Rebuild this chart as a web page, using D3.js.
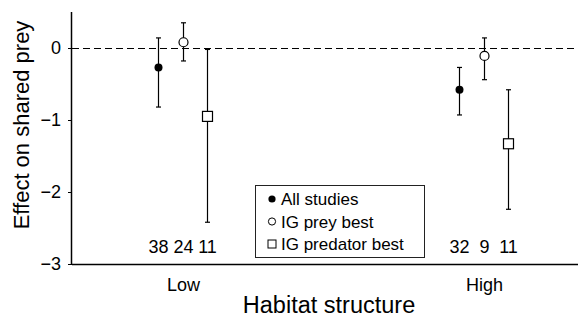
<!DOCTYPE html>
<html>
<head>
<meta charset="utf-8">
<script src="https://cdn.jsdelivr.net/npm/d3@7/dist/d3.min.js"></script>
<style>
  html, body { margin: 0; padding: 0; background: #fff; }
  svg { display: block; }
  text { font-family: "Liberation Sans", Arial, Helvetica, sans-serif; fill: #000; }
</style>
</head>
<body>
<svg id="chart" width="578" height="318"></svg>
<script>
// ---- data ----
const categories = ["Low", "High"];
const seriesNames = ["All studies", "IG prey best", "IG predator best"];
const meanAll   = [-0.27, -0.58];
const meanPrey  = [0.08, -0.11];
const meanPred  = [-0.95, -1.33];
const lowAll    = [-0.82, -0.93];
const lowPrey   = [-0.18, -0.44];
const lowPred   = [-2.42, -2.24];
const highAll   = [0.14, -0.27];
const highPrey  = [0.35, 0.14];
const highPred  = [-0.02, -0.58];
const nAll      = [38, 32];
const nPrey     = [24, 9];
const nPred     = [11, 11];
const yTicks    = [0, -1, -2, -3];

const series = [
  { name: seriesNames[0], mean: meanAll,  lo: lowAll,  hi: highAll,  n: nAll,  shape: "fcircle" },
  { name: seriesNames[1], mean: meanPrey, lo: lowPrey, hi: highPrey, n: nPrey, shape: "ocircle" },
  { name: seriesNames[2], mean: meanPred, lo: lowPred, hi: highPred, n: nPred, shape: "square" }
];

// ---- layout ----
const svg = d3.select("#chart");
const mL = 72, mR = 578, mT = 12, mB = 264;

const y = d3.scaleLinear().domain([-3, 0.5]).range([mB, mT]);
const xCat = d3.scaleLinear().domain([-0.369, 1.312]).range([mL, mR]);
const xOff = d3.scalePoint().domain(seriesNames).range([-25, 24]);
const xPos = (ci, s) => xCat(ci) + xOff(s);

// y axis
const yAxis = d3.axisLeft(y).tickValues(yTicks).tickFormat(d3.format("d")).tickSize(4).tickPadding(7);
const gy = svg.append("g").attr("transform", `translate(${mL},0)`).call(yAxis);
gy.select(".domain").attr("d", `M-0.5,${mT}V${mB}`).attr("stroke", "#000").attr("stroke-width", 1.5);
gy.selectAll(".tick line").attr("stroke", "#000").attr("stroke-width", 1);
gy.selectAll(".tick text").style("font-size", "18px").style("font-family", "'Liberation Sans', Arial, sans-serif");

// x axis
const xAxis = d3.axisBottom(xCat).tickValues([0, 1]).tickFormat(i => categories[i]).tickSize(0).tickPadding(14);
const gx = svg.append("g").attr("transform", `translate(0,${mB})`).call(xAxis);
gx.select(".domain").attr("d", `M${mL},0.5H${mR}`).attr("stroke", "#000").attr("stroke-width", 1.5);
gx.selectAll(".tick text").style("font-size", "18px").style("font-family", "'Liberation Sans', Arial, sans-serif");

// zero reference line
svg.append("line")
  .attr("x1", mL).attr("x2", mR)
  .attr("y1", y(0) + 0.5).attr("y2", y(0) + 0.5)
  .attr("stroke", "#000").attr("stroke-width", 1.1)
  .attr("stroke-dasharray", "7,4");

// error bars & markers
const cap = 2.5;
series.forEach(s => {
  categories.forEach((c, ci) => {
    const cx = Math.round(xPos(ci, s.name)) + 0.5;
    const g = svg.append("g");
    g.append("line").attr("x1", cx).attr("x2", cx)
      .attr("y1", y(s.hi[ci])).attr("y2", y(s.lo[ci]))
      .attr("stroke", "#000").attr("stroke-width", 1.2);
    [s.hi[ci], s.lo[ci]].forEach(v => {
      g.append("line").attr("x1", cx - cap).attr("x2", cx + cap)
        .attr("y1", y(v)).attr("y2", y(v))
        .attr("stroke", "#000").attr("stroke-width", 1.2);
    });
    const cy = y(s.mean[ci]);
    if (s.shape === "fcircle") {
      g.append("circle").attr("cx", cx).attr("cy", cy).attr("r", 4).attr("fill", "#000");
    } else if (s.shape === "ocircle") {
      g.append("circle").attr("cx", cx).attr("cy", cy).attr("r", 4.5)
        .attr("fill", "#fff").attr("stroke", "#000").attr("stroke-width", 1.2);
    } else {
      g.append("rect").attr("x", cx - 5).attr("y", cy - 5).attr("width", 10).attr("height", 10)
        .attr("fill", "#fff").attr("stroke", "#000").attr("stroke-width", 1.2);
    }
    svg.append("text").attr("x", cx).attr("y", 253)
      .attr("text-anchor", "middle").style("font-size", "18px")
      .text(s.n[ci]);
  });
});

// legend
const lg = svg.append("g");
lg.append("rect").attr("x", 255.5).attr("y", 185.5).attr("width", 169).attr("height", 72)
  .attr("fill", "#fff").attr("stroke", "#222").attr("stroke-width", 1);
series.forEach((s, i) => {
  const ly = 199 + i * 22.5;
  const lx = 272;
  if (s.shape === "fcircle") {
    lg.append("circle").attr("cx", lx).attr("cy", ly).attr("r", 3.6).attr("fill", "#000");
  } else if (s.shape === "ocircle") {
    lg.append("circle").attr("cx", lx).attr("cy", ly).attr("r", 3.6)
      .attr("fill", "#fff").attr("stroke", "#000").attr("stroke-width", 1);
  } else {
    lg.append("rect").attr("x", lx - 4).attr("y", ly - 4).attr("width", 8).attr("height", 8)
      .attr("fill", "#fff").attr("stroke", "#000").attr("stroke-width", 1);
  }
  lg.append("text").attr("x", 281).attr("y", ly + 6).style("font-size", "17px").text(s.name);
});

// axis titles
svg.append("text").attr("x", 329).attr("y", 313).attr("text-anchor", "middle")
  .style("font-size", "23.5px").text("Habitat structure");
svg.append("text").attr("transform", "translate(29,125) rotate(-90)").attr("text-anchor", "middle")
  .style("font-size", "22px").text("Effect on shared prey");
</script>
</body>
</html>
